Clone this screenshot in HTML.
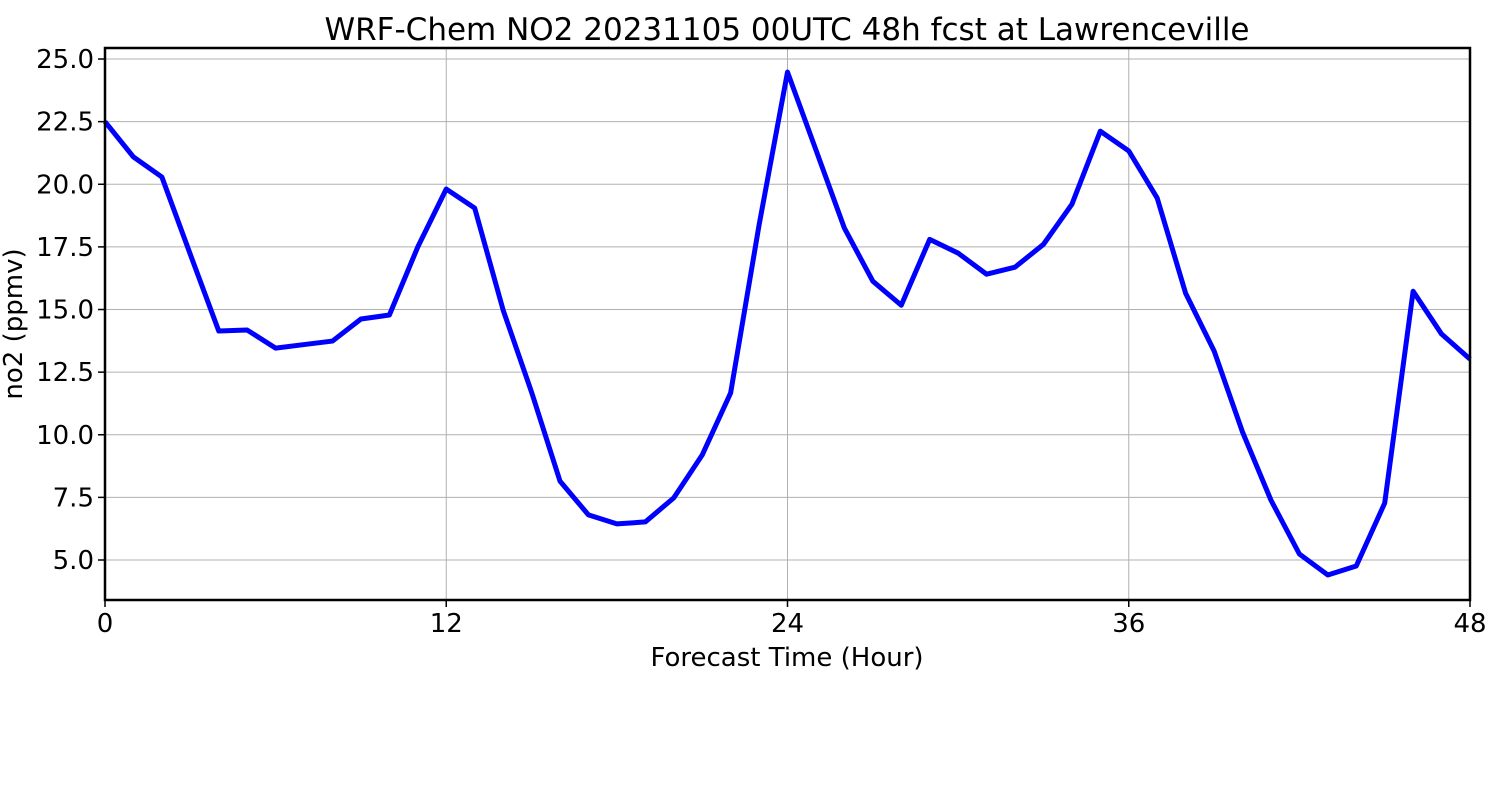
<!DOCTYPE html>
<html><head><meta charset="utf-8"><style>
body{margin:0;background:#fff;}
svg text{font-family:"DejaVu Sans","Liberation Sans",sans-serif;fill:#000;}
</style></head><body>
<svg id="chart" width="1500" height="800" xmlns="http://www.w3.org/2000/svg">
<rect width="1500" height="800" fill="#fff"/>
<text x="787" y="40" font-size="31" text-anchor="middle">WRF-Chem NO2  20231105 00UTC 48h fcst at Lawrenceville</text>
<g id="grid"></g>
<g id="ticks"></g>
<polyline id="line" fill="none" stroke="#0000ff" stroke-width="5" stroke-linejoin="round"/>
<rect x="105" y="48" width="1365" height="552" fill="none" stroke="#000" stroke-width="2.5"/>
<text x="787" y="666" font-size="26" text-anchor="middle">Forecast Time (Hour)</text>
<text transform="translate(22,324) rotate(-90)" font-size="26" text-anchor="middle">no2  (ppmv)</text>
</svg>
<script>
const hours=[0,1,2,3,4,5,6,7,8,9,10,11,12,13,14,15,16,17,18,19,20,21,22,23,24,25,26,27,28,29,30,31,32,33,34,35,36,37,38,39,40,41,42,43,44,45,46,47,48];
const no2=[22.5,21.09,20.29,17.2,14.14,14.18,13.46,13.6,13.74,14.62,14.78,17.5,19.81,19.05,14.98,11.7,8.15,6.8,6.44,6.52,7.48,9.19,11.67,18.37,24.48,21.37,18.25,16.13,15.17,17.8,17.25,16.41,16.69,17.6,19.2,22.12,21.33,19.45,15.65,13.35,10.11,7.39,5.24,4.4,4.76,7.27,15.73,14.02,13.02];
const xTicks=[0,12,24,36,48];
const yTicks=[5.0,7.5,10.0,12.5,15.0,17.5,20.0,22.5,25.0];
const X0=105,X1=1470,Y0=600,Y1=48;
const xMin=0,xMax=48,yMin=3.403,yMax=25.44;
function sx(v){return X0+(v-xMin)/(xMax-xMin)*(X1-X0);}
function sy(v){return Y0-(v-yMin)/(yMax-yMin)*(Y0-Y1);}
const NS="http://www.w3.org/2000/svg";
const grid=document.getElementById('grid'),ticks=document.getElementById('ticks');
function mk(tag,attrs,parent){const e=document.createElementNS(NS,tag);for(const k in attrs)e.setAttribute(k,attrs[k]);parent.appendChild(e);return e;}
xTicks.forEach(t=>{const x=sx(t);
 const g=mk('line',{x1:x,x2:x,y1:Y1,y2:Y0,stroke:'#b0b0b0','stroke-width':1},grid);
 
 
 const tk=mk('line',{x1:x,x2:x,y1:Y0,y2:Y0+7,stroke:'#000','stroke-width':1.5},ticks);
 
 
 const l=mk('text',{x:x,y:632,'font-size':26,'text-anchor':'middle'},ticks);l.textContent=t;
 
 
});
yTicks.forEach(t=>{const y=sy(t);
 const g=mk('line',{x1:X0,x2:X1,y1:y,y2:y,stroke:'#b0b0b0','stroke-width':1},grid);
 
 
 const tk=mk('line',{x1:X0-7,x2:X0,y1:y,y2:y,stroke:'#000','stroke-width':1.5},ticks);
 
 
 const l=mk('text',{x:94,y:y+9,'font-size':26,'text-anchor':'end'},ticks);l.textContent=t.toFixed(1);
 
 
});
document.getElementById('line').setAttribute('points',hours.map((h,i)=>sx(h)+','+sy(no2[i])).join(' '));
</script>
</body></html>
